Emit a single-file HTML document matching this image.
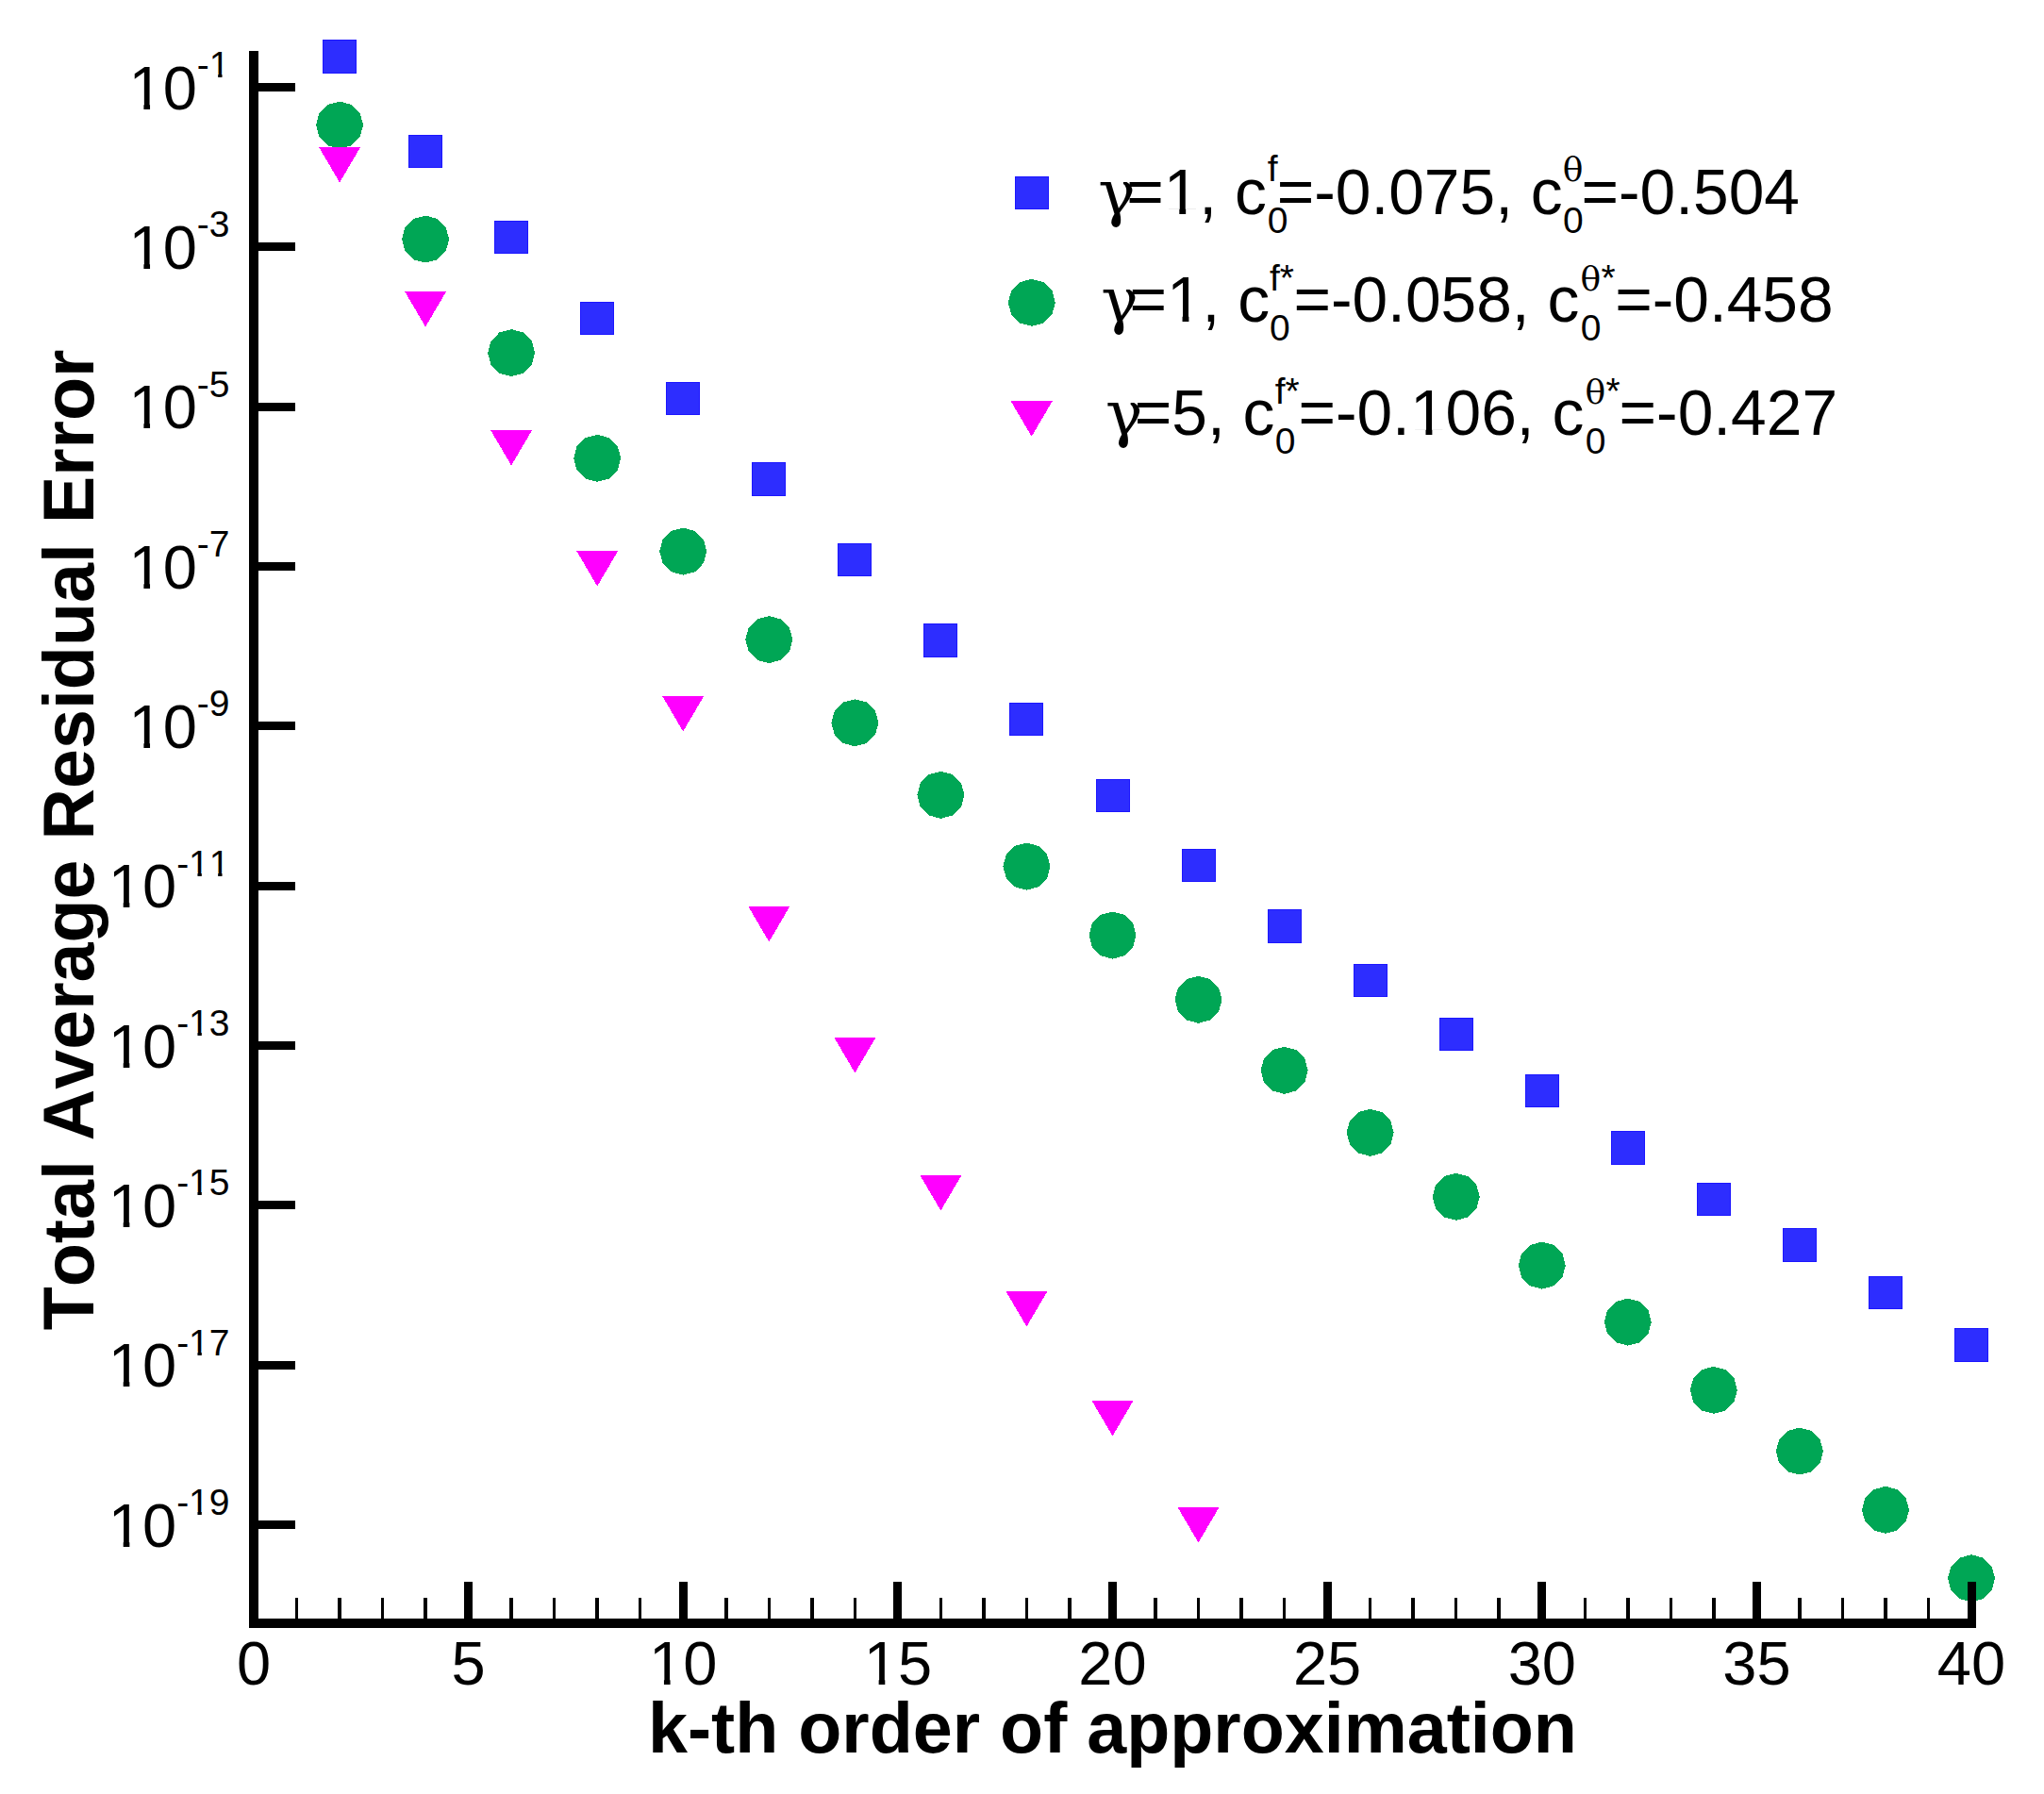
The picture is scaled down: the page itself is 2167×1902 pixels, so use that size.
<!DOCTYPE html>
<html lang="en"><head><meta charset="utf-8">
<title>Total Average Residual Error vs k-th order of approximation</title>
<style>
html,body{margin:0;padding:0;background:#fff;}
body{width:2167px;height:1902px;}
svg{display:block;}
.t{font-family:'Liberation Sans', sans-serif;fill:#000;font-kerning:none;font-feature-settings:"kern" 0,"liga" 0;}
.g{font-family:'DejaVu Serif', 'Liberation Serif', serif;}
.b{font-weight:bold;}
</style></head><body>
<svg width="2167" height="1902" viewBox="0 0 2167 1902">
<rect x="0" y="0" width="2167" height="1902" fill="#ffffff"/>
<g id="series-blue" shape-rendering="crispEdges">
<rect x="342" y="42" width="36" height="36" fill="#1c16ff"/><rect x="343" y="43" width="34" height="34" fill="#2d2dff"/>
<rect x="433" y="143" width="36" height="35" fill="#1c16ff"/><rect x="434" y="144" width="34" height="33" fill="#2d2dff"/>
<rect x="524" y="234" width="36" height="35" fill="#1c16ff"/><rect x="525" y="235" width="34" height="33" fill="#2d2dff"/>
<rect x="615" y="320" width="36" height="35" fill="#1c16ff"/><rect x="616" y="321" width="34" height="33" fill="#2d2dff"/>
<rect x="706" y="405" width="36" height="35" fill="#1c16ff"/><rect x="707" y="406" width="34" height="33" fill="#2d2dff"/>
<rect x="797" y="490" width="36" height="36" fill="#1c16ff"/><rect x="798" y="491" width="34" height="34" fill="#2d2dff"/>
<rect x="888" y="576" width="36" height="35" fill="#1c16ff"/><rect x="889" y="577" width="34" height="33" fill="#2d2dff"/>
<rect x="979" y="661" width="36" height="36" fill="#1c16ff"/><rect x="980" y="662" width="34" height="34" fill="#2d2dff"/>
<rect x="1070" y="745" width="36" height="35" fill="#1c16ff"/><rect x="1071" y="746" width="34" height="33" fill="#2d2dff"/>
<rect x="1162" y="826" width="36" height="35" fill="#1c16ff"/><rect x="1163" y="827" width="34" height="33" fill="#2d2dff"/>
<rect x="1253" y="900" width="36" height="35" fill="#1c16ff"/><rect x="1254" y="901" width="34" height="33" fill="#2d2dff"/>
<rect x="1344" y="964" width="36" height="36" fill="#1c16ff"/><rect x="1345" y="965" width="34" height="34" fill="#2d2dff"/>
<rect x="1435" y="1022" width="36" height="35" fill="#1c16ff"/><rect x="1436" y="1023" width="34" height="33" fill="#2d2dff"/>
<rect x="1526" y="1079" width="36" height="35" fill="#1c16ff"/><rect x="1527" y="1080" width="34" height="33" fill="#2d2dff"/>
<rect x="1617" y="1139" width="36" height="35" fill="#1c16ff"/><rect x="1618" y="1140" width="34" height="33" fill="#2d2dff"/>
<rect x="1708" y="1199" width="36" height="36" fill="#1c16ff"/><rect x="1709" y="1200" width="34" height="34" fill="#2d2dff"/>
<rect x="1799" y="1254" width="36" height="35" fill="#1c16ff"/><rect x="1800" y="1255" width="34" height="33" fill="#2d2dff"/>
<rect x="1890" y="1302" width="36" height="36" fill="#1c16ff"/><rect x="1891" y="1303" width="34" height="34" fill="#2d2dff"/>
<rect x="1981" y="1353" width="36" height="35" fill="#1c16ff"/><rect x="1982" y="1354" width="34" height="33" fill="#2d2dff"/>
<rect x="2072" y="1408" width="36" height="36" fill="#1c16ff"/><rect x="2073" y="1409" width="34" height="34" fill="#2d2dff"/>
</g>
<g id="series-green" fill="#00a655" shape-rendering="crispEdges">
<polygon points="385.1,132.6 381.7,120.1 372.6,110.9 360.1,107.6 347.6,110.9 338.4,120.1 335.1,132.6 338.4,145.1 347.6,154.3 360.1,157.6 372.6,154.3 381.7,145.1"/>
<polygon points="476.1,253.6 472.8,241.1 463.6,231.9 451.1,228.6 438.6,231.9 429.4,241.1 426.1,253.6 429.4,266.1 438.6,275.3 451.1,278.6 463.6,275.3 472.8,266.1"/>
<polygon points="567.1,374.1 563.8,361.6 554.6,352.4 542.1,349.1 529.6,352.4 520.5,361.6 517.1,374.1 520.5,386.6 529.6,395.8 542.1,399.1 554.6,395.8 563.8,386.6"/>
<polygon points="658.2,485.8 654.9,473.3 645.7,464.1 633.2,460.8 620.7,464.1 611.5,473.3 608.2,485.8 611.5,498.3 620.7,507.5 633.2,510.8 645.7,507.5 654.9,498.3"/>
<polygon points="749.2,584.6 745.9,572.1 736.8,562.9 724.2,559.6 711.8,562.9 702.6,572.1 699.2,584.6 702.6,597.1 711.8,606.3 724.2,609.6 736.8,606.3 745.9,597.1"/>
<polygon points="840.3,678.1 837.0,665.6 827.8,656.4 815.3,653.1 802.8,656.4 793.6,665.6 790.3,678.1 793.6,690.6 802.8,699.8 815.3,703.1 827.8,699.8 837.0,690.6"/>
<polygon points="931.4,766.3 928.0,753.8 918.9,744.6 906.4,741.3 893.9,744.6 884.7,753.8 881.4,766.3 884.7,778.8 893.9,788.0 906.4,791.3 918.9,788.0 928.0,778.8"/>
<polygon points="1022.4,842.8 1019.1,830.3 1009.9,821.1 997.4,817.8 984.9,821.1 975.7,830.3 972.4,842.8 975.7,855.3 984.9,864.5 997.4,867.8 1009.9,864.5 1019.1,855.3"/>
<polygon points="1113.4,918.6 1110.1,906.1 1100.9,896.9 1088.4,893.6 1075.9,896.9 1066.8,906.1 1063.4,918.6 1066.8,931.1 1075.9,940.3 1088.4,943.6 1100.9,940.3 1110.1,931.1"/>
<polygon points="1204.5,991.6 1201.2,979.1 1192.0,969.9 1179.5,966.6 1167.0,969.9 1157.8,979.1 1154.5,991.6 1157.8,1004.1 1167.0,1013.3 1179.5,1016.6 1192.0,1013.3 1201.2,1004.1"/>
<polygon points="1295.5,1059.8 1292.2,1047.3 1283.0,1038.1 1270.5,1034.8 1258.0,1038.1 1248.9,1047.3 1245.5,1059.8 1248.9,1072.3 1258.0,1081.5 1270.5,1084.8 1283.0,1081.5 1292.2,1072.3"/>
<polygon points="1386.6,1134.8 1383.3,1122.3 1374.1,1113.1 1361.6,1109.8 1349.1,1113.1 1339.9,1122.3 1336.6,1134.8 1339.9,1147.3 1349.1,1156.5 1361.6,1159.8 1374.1,1156.5 1383.3,1147.3"/>
<polygon points="1477.6,1200.8 1474.3,1188.3 1465.1,1179.1 1452.6,1175.8 1440.1,1179.1 1431.0,1188.3 1427.6,1200.8 1431.0,1213.3 1440.1,1222.5 1452.6,1225.8 1465.1,1222.5 1474.3,1213.3"/>
<polygon points="1568.7,1268.8 1565.4,1256.3 1556.2,1247.1 1543.7,1243.8 1531.2,1247.1 1522.0,1256.3 1518.7,1268.8 1522.0,1281.3 1531.2,1290.5 1543.7,1293.8 1556.2,1290.5 1565.4,1281.3"/>
<polygon points="1659.8,1341.6 1656.4,1329.1 1647.2,1319.9 1634.8,1316.6 1622.2,1319.9 1613.1,1329.1 1609.8,1341.6 1613.1,1354.1 1622.2,1363.3 1634.8,1366.6 1647.2,1363.3 1656.4,1354.1"/>
<polygon points="1750.8,1401.6 1747.5,1389.1 1738.3,1379.9 1725.8,1376.6 1713.3,1379.9 1704.1,1389.1 1700.8,1401.6 1704.1,1414.1 1713.3,1423.3 1725.8,1426.6 1738.3,1423.3 1747.5,1414.1"/>
<polygon points="1841.8,1473.8 1838.5,1461.3 1829.3,1452.1 1816.8,1448.8 1804.3,1452.1 1795.2,1461.3 1791.8,1473.8 1795.2,1486.3 1804.3,1495.5 1816.8,1498.8 1829.3,1495.5 1838.5,1486.3"/>
<polygon points="1932.9,1538.6 1929.6,1526.1 1920.4,1516.9 1907.9,1513.6 1895.4,1516.9 1886.2,1526.1 1882.9,1538.6 1886.2,1551.1 1895.4,1560.3 1907.9,1563.6 1920.4,1560.3 1929.6,1551.1"/>
<polygon points="2024.0,1600.8 2020.6,1588.3 2011.5,1579.1 1999.0,1575.8 1986.5,1579.1 1977.3,1588.3 1974.0,1600.8 1977.3,1613.3 1986.5,1622.5 1999.0,1625.8 2011.5,1622.5 2020.6,1613.3"/>
<polygon points="2115.0,1673.3 2111.7,1660.8 2102.5,1651.6 2090.0,1648.3 2077.5,1651.6 2068.3,1660.8 2065.0,1673.3 2068.3,1685.8 2077.5,1695.0 2090.0,1698.3 2102.5,1695.0 2111.7,1685.8"/>
</g>
<g id="series-magenta" fill="#ff00ff" shape-rendering="crispEdges">
<polygon points="338.1,156.0 382.1,156.0 360.1,193.5"/>
<polygon points="429.1,309.0 473.1,309.0 451.1,346.5"/>
<polygon points="520.1,456.0 564.1,456.0 542.1,493.5"/>
<polygon points="611.2,584.0 655.2,584.0 633.2,621.5"/>
<polygon points="702.2,738.0 746.2,738.0 724.2,775.5"/>
<polygon points="793.3,961.0 837.3,961.0 815.3,998.5"/>
<polygon points="884.4,1100.0 928.4,1100.0 906.4,1137.5"/>
<polygon points="975.4,1246.0 1019.4,1246.0 997.4,1283.5"/>
<polygon points="1066.4,1369.0 1110.4,1369.0 1088.4,1406.5"/>
<polygon points="1157.5,1485.0 1201.5,1485.0 1179.5,1522.5"/>
<polygon points="1248.5,1598.0 1292.5,1598.0 1270.5,1635.5"/>
</g>
<g id="axes" fill="#000" shape-rendering="crispEdges">
<rect x="264.0" y="54.0" width="10" height="1672.0"/>
<rect x="264.0" y="1716.0" width="1831.0" height="10"/>
<rect x="312.77" y="1694" width="3.5" height="27.0"/>
<rect x="358.30" y="1694" width="3.5" height="27.0"/>
<rect x="403.82" y="1694" width="3.5" height="27.0"/>
<rect x="449.35" y="1694" width="3.5" height="27.0"/>
<rect x="492" y="1677" width="9" height="44.0"/>
<rect x="540.40" y="1694" width="3.5" height="27.0"/>
<rect x="585.92" y="1694" width="3.5" height="27.0"/>
<rect x="631.45" y="1694" width="3.5" height="27.0"/>
<rect x="676.97" y="1694" width="3.5" height="27.0"/>
<rect x="720" y="1677" width="9" height="44.0"/>
<rect x="768.02" y="1694" width="3.5" height="27.0"/>
<rect x="813.55" y="1694" width="3.5" height="27.0"/>
<rect x="859.07" y="1694" width="3.5" height="27.0"/>
<rect x="904.60" y="1694" width="3.5" height="27.0"/>
<rect x="947" y="1677" width="9" height="44.0"/>
<rect x="995.65" y="1694" width="3.5" height="27.0"/>
<rect x="1041.17" y="1694" width="3.5" height="27.0"/>
<rect x="1086.70" y="1694" width="3.5" height="27.0"/>
<rect x="1132.22" y="1694" width="3.5" height="27.0"/>
<rect x="1175" y="1677" width="9" height="44.0"/>
<rect x="1223.28" y="1694" width="3.5" height="27.0"/>
<rect x="1268.80" y="1694" width="3.5" height="27.0"/>
<rect x="1314.33" y="1694" width="3.5" height="27.0"/>
<rect x="1359.85" y="1694" width="3.5" height="27.0"/>
<rect x="1403" y="1677" width="9" height="44.0"/>
<rect x="1450.90" y="1694" width="3.5" height="27.0"/>
<rect x="1496.42" y="1694" width="3.5" height="27.0"/>
<rect x="1541.95" y="1694" width="3.5" height="27.0"/>
<rect x="1587.47" y="1694" width="3.5" height="27.0"/>
<rect x="1630" y="1677" width="9" height="44.0"/>
<rect x="1678.52" y="1694" width="3.5" height="27.0"/>
<rect x="1724.05" y="1694" width="3.5" height="27.0"/>
<rect x="1769.58" y="1694" width="3.5" height="27.0"/>
<rect x="1815.10" y="1694" width="3.5" height="27.0"/>
<rect x="1858" y="1677" width="9" height="44.0"/>
<rect x="1906.15" y="1694" width="3.5" height="27.0"/>
<rect x="1951.67" y="1694" width="3.5" height="27.0"/>
<rect x="1997.20" y="1694" width="3.5" height="27.0"/>
<rect x="2042.72" y="1694" width="3.5" height="27.0"/>
<rect x="2086" y="1677" width="9" height="44.0"/>
<rect x="269.0" y="88" width="44.0" height="9"/>
<rect x="269.0" y="257" width="44.0" height="9"/>
<rect x="269.0" y="427" width="44.0" height="9"/>
<rect x="269.0" y="596" width="44.0" height="9"/>
<rect x="269.0" y="765" width="44.0" height="9"/>
<rect x="269.0" y="935" width="44.0" height="9"/>
<rect x="269.0" y="1104" width="44.0" height="9"/>
<rect x="269.0" y="1273" width="44.0" height="9"/>
<rect x="269.0" y="1443" width="44.0" height="9"/>
<rect x="269.0" y="1612" width="44.0" height="9"/>
</g>
<g id="xlabels" class="t" font-size="65.0" text-anchor="middle">
<text x="269.0" y="1786.4">0</text>
<text x="496.6" y="1786.4">5</text>
<text x="724.2" y="1786.4">10</text>
<text x="951.9" y="1786.4">15</text>
<text x="1179.5" y="1786.4">20</text>
<text x="1407.1" y="1786.4">25</text>
<text x="1634.8" y="1786.4">30</text>
<text x="1862.4" y="1786.4">35</text>
<text x="2090.0" y="1786.4">40</text>
</g>
<g id="ylabels" class="t" font-size="65.0" text-anchor="end">
<text x="243.5" y="115.5">10<tspan font-size="39.0" dy="-33.5">-1</tspan></text>
<text x="243.5" y="284.8">10<tspan font-size="39.0" dy="-33.5">-3</tspan></text>
<text x="243.5" y="454.2">10<tspan font-size="39.0" dy="-33.5">-5</tspan></text>
<text x="243.5" y="623.5">10<tspan font-size="39.0" dy="-33.5">-7</tspan></text>
<text x="243.5" y="792.8">10<tspan font-size="39.0" dy="-33.5">-9</tspan></text>
<text x="243.5" y="962.2">10<tspan font-size="39.0" dy="-33.5">-11</tspan></text>
<text x="243.5" y="1131.5">10<tspan font-size="39.0" dy="-33.5">-13</tspan></text>
<text x="243.5" y="1300.8">10<tspan font-size="39.0" dy="-33.5">-15</tspan></text>
<text x="243.5" y="1470.2">10<tspan font-size="39.0" dy="-33.5">-17</tspan></text>
<text x="243.5" y="1639.5">10<tspan font-size="39.0" dy="-33.5">-19</tspan></text>
</g>
<text id="xtitle" class="t b" font-size="75.45" text-anchor="middle" x="1179.5" y="1857.9">k-th order of approximation</text>
<text id="ytitle" class="t b" font-size="75.45" text-anchor="middle" transform="translate(99.1,890.5) rotate(-90)">Total Average Residual Error</text>
<g id="legend">
<g shape-rendering="crispEdges"><rect x="1076" y="187" width="36" height="35" fill="#1c16ff"/><rect x="1077" y="188" width="34" height="33" fill="#2d2dff"/></g>
<g fill="#00a655" shape-rendering="crispEdges"><polygon points="1118.8,320.8 1115.5,308.3 1106.3,299.1 1093.8,295.8 1081.3,299.1 1072.1,308.3 1068.8,320.8 1072.1,333.3 1081.3,342.5 1093.8,345.8 1106.3,342.5 1115.5,333.3"/></g>
<polygon points="1071.7,425.3 1115.7,425.3 1093.7,462.8" fill="#ff00ff" shape-rendering="crispEdges"/>
<text class="t g" font-size="66.0" x="1164.20" y="227.05">γ</text>
<text class="t" font-size="67.7" x="1194.20" y="227.05">=1, c</text>
<text class="t" font-size="39.0" x="1343.80" y="246.85">0</text>
<text class="t" font-size="39.0" x="1343.80" y="192.15">f</text>
<text class="t" font-size="67.7" x="1353.70" y="227.05">=-0.075, c</text>
<text class="t" font-size="39.0" x="1657.00" y="246.85">0</text>
<text class="t g" font-size="36.0" x="1656.70" y="192.15">θ</text>
<text class="t" font-size="67.7" x="1676.50" y="227.05">=-0.504</text>
<text class="t g" font-size="66.0" x="1167.20" y="340.70">γ</text>
<text class="t" font-size="67.7" x="1197.44" y="340.70">=1, c</text>
<text class="t" font-size="39.0" x="1345.90" y="360.50">0</text>
<text class="t" font-size="39.0" x="1345.90" y="308.40">f*</text>
<text class="t" font-size="67.7" x="1371.40" y="340.70">=-0.058, c</text>
<text class="t" font-size="39.0" x="1675.80" y="360.50">0</text>
<text class="t g" font-size="36.0" x="1675.50" y="308.40">θ</text>
<text class="t" font-size="39.0" x="1697.50" y="308.40">*</text>
<text class="t" font-size="67.7" x="1712.20" y="340.70">=-0.458</text>
<text class="t g" font-size="66.0" x="1172.10" y="461.00">γ</text>
<text class="t" font-size="67.7" x="1202.84" y="461.00">=5, c</text>
<text class="t" font-size="39.0" x="1351.70" y="480.80">0</text>
<text class="t" font-size="39.0" x="1351.70" y="427.50">f*</text>
<text class="t" font-size="67.7" x="1376.40" y="461.00">=-0.106, c</text>
<text class="t" font-size="39.0" x="1680.70" y="480.80">0</text>
<text class="t g" font-size="36.0" x="1680.40" y="427.50">θ</text>
<text class="t" font-size="39.0" x="1702.40" y="427.50">*</text>
<text class="t" font-size="67.7" x="1716.60" y="461.00">=-0.427</text>
</g>
<g id="one-foot-masks" fill="#ffffff">
<rect x="691.29" y="1780.84" width="12.65" height="6.56"/>
<rect x="710.58" y="1780.84" width="11.91" height="6.56"/>
<rect x="918.99" y="1780.84" width="12.65" height="6.56"/>
<rect x="938.28" y="1780.84" width="11.91" height="6.56"/>
<rect x="139.75" y="109.94" width="12.65" height="6.56"/>
<rect x="159.04" y="109.94" width="11.91" height="6.56"/>
<rect x="223.75" y="78.39" width="7.41" height="4.61"/>
<rect x="235.50" y="78.39" width="6.97" height="4.61"/>
<rect x="139.75" y="279.24" width="12.65" height="6.56"/>
<rect x="159.04" y="279.24" width="11.91" height="6.56"/>
<rect x="139.75" y="448.64" width="12.65" height="6.56"/>
<rect x="159.04" y="448.64" width="11.91" height="6.56"/>
<rect x="139.75" y="617.94" width="12.65" height="6.56"/>
<rect x="159.04" y="617.94" width="11.91" height="6.56"/>
<rect x="139.75" y="787.24" width="12.65" height="6.56"/>
<rect x="159.04" y="787.24" width="11.91" height="6.56"/>
<rect x="118.06" y="956.64" width="12.65" height="6.56"/>
<rect x="137.35" y="956.64" width="11.91" height="6.56"/>
<rect x="202.06" y="925.09" width="7.41" height="4.61"/>
<rect x="213.81" y="925.09" width="6.97" height="4.61"/>
<rect x="223.75" y="925.09" width="7.41" height="4.61"/>
<rect x="235.50" y="925.09" width="6.97" height="4.61"/>
<rect x="118.06" y="1125.94" width="12.65" height="6.56"/>
<rect x="137.35" y="1125.94" width="11.91" height="6.56"/>
<rect x="202.06" y="1094.39" width="7.41" height="4.61"/>
<rect x="213.81" y="1094.39" width="6.97" height="4.61"/>
<rect x="118.06" y="1295.24" width="12.65" height="6.56"/>
<rect x="137.35" y="1295.24" width="11.91" height="6.56"/>
<rect x="202.06" y="1263.69" width="7.41" height="4.61"/>
<rect x="213.81" y="1263.69" width="6.97" height="4.61"/>
<rect x="118.06" y="1464.64" width="12.65" height="6.56"/>
<rect x="137.35" y="1464.64" width="11.91" height="6.56"/>
<rect x="202.06" y="1433.09" width="7.41" height="4.61"/>
<rect x="213.81" y="1433.09" width="6.97" height="4.61"/>
<rect x="118.06" y="1633.94" width="12.65" height="6.56"/>
<rect x="137.35" y="1633.94" width="11.91" height="6.56"/>
<rect x="202.06" y="1602.39" width="7.41" height="4.61"/>
<rect x="213.81" y="1602.39" width="6.97" height="4.61"/>
<rect x="1237.11" y="221.29" width="13.19" height="6.76"/>
<rect x="1257.17" y="221.29" width="12.43" height="6.76"/>
<rect x="1240.35" y="334.94" width="13.19" height="6.76"/>
<rect x="1260.41" y="334.94" width="12.43" height="6.76"/>
<rect x="1498.31" y="455.24" width="13.19" height="6.76"/>
<rect x="1518.37" y="455.24" width="12.43" height="6.76"/>
</g>
</svg>
</body></html>
